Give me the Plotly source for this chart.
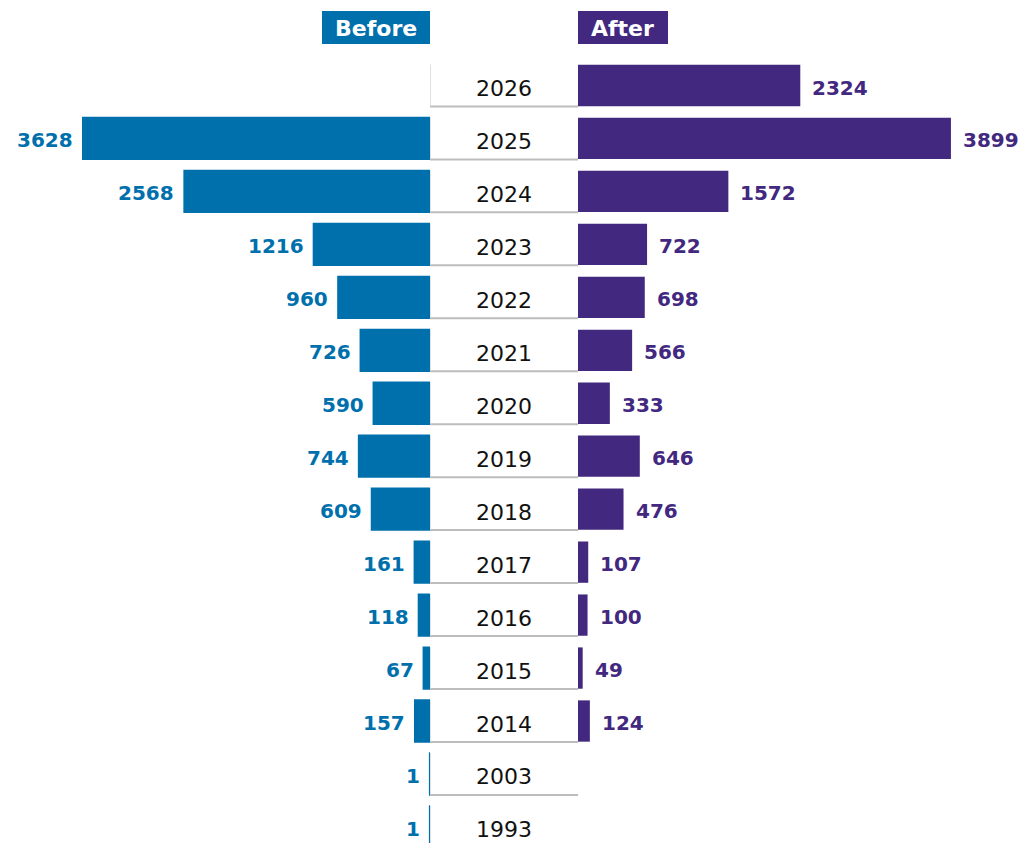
import plotly.graph_objects as go

years = ["2026", "2025", "2024", "2023", "2022", "2021", "2020", "2019", "2018",
         "2017", "2016", "2015", "2014", "2003", "1993"]
before = [None, 3628, 2568, 1216, 960, 726, 590, 744, 609, 161, 118, 67, 157, 1, 1]
after = [2324, 3899, 1572, 722, 698, 566, 333, 646, 476, 107, 100, 49, 124, None, None]

BLUE = "#0070AD"
PURPLE = "#42287F"
FONT = "DejaVu Sans"

W, H = 1021, 843
rows = list(range(len(years)))

fig = go.Figure()

fig.add_trace(go.Bar(
    y=rows, x=before, orientation="h", xaxis="x", yaxis="y",
    marker=dict(color=BLUE, line=dict(color=BLUE, width=2)), width=0.78,
    hoverinfo="skip", showlegend=False))

fig.add_trace(go.Bar(
    y=rows, x=after, orientation="h", xaxis="x3", yaxis="y",
    marker=dict(color=PURPLE, line=dict(color=PURPLE, width=0)), width=0.78,
    hoverinfo="skip", showlegend=False))

shapes = []
for i in rows:
    shapes.append(dict(type="line", xref="x2", yref="y", x0=0, x1=1,
                       y0=i + 0.395, y1=i + 0.395, layer="below",
                       line=dict(color="#bdbdbd", width=2)))
    shapes.append(dict(type="line", xref="x2", yref="y", x0=0, x1=0,
                       y0=i - 0.395, y1=i + 0.395, layer="below",
                       line=dict(color="#d6d6d6", width=1.5)))

# header boxes
shapes.append(dict(type="rect", xref="paper", yref="paper",
                   x0=322 / W, x1=430 / W, y0=1 - 44 / H, y1=1 - 11 / H,
                   fillcolor=BLUE, line=dict(width=0)))
shapes.append(dict(type="rect", xref="paper", yref="paper",
                   x0=578 / W, x1=668 / W, y0=1 - 44 / H, y1=1 - 11 / H,
                   fillcolor=PURPLE, line=dict(width=0)))

annotations = [
    dict(xref="paper", yref="paper", x=376 / W, y=1 - 28 / H, text="<b>Before</b>",
         showarrow=False, font=dict(family=FONT, size=22, color="white"),
         xanchor="center", yanchor="middle"),
    dict(xref="paper", yref="paper", x=622 / W, y=1 - 28 / H, text="<b>After</b>",
         showarrow=False, font=dict(family=FONT, size=22, color="white"),
         xanchor="center", yanchor="middle"),
]
for i, yr in enumerate(years):
    annotations.append(dict(xref="x2", yref="y", x=0.5, y=i, text=yr,
                            showarrow=False, xanchor="center", yanchor="middle",
                            yshift=-3, font=dict(family=FONT, size=22, color="#111111")))
for i, v in enumerate(before):
    if v is not None:
        annotations.append(dict(xref="x", yref="y", x=v, y=i, text=f"<b>{v}</b>",
                                showarrow=False, xanchor="right", yanchor="middle",
                                xshift=-8, yshift=-2,
                                font=dict(family=FONT, size=20, color=BLUE)))
for i, v in enumerate(after):
    if v is not None:
        annotations.append(dict(xref="x3", yref="y", x=v, y=i, text=f"<b>{v}</b>",
                                showarrow=False, xanchor="left", yanchor="middle",
                                xshift=10, yshift=-2,
                                font=dict(family=FONT, size=20, color=PURPLE)))

s = 0.09565  # px per unit
pitch = 52.96
top_c = 85.5

axis_common = dict(showgrid=False, zeroline=False, showticklabels=False,
                   showline=False, ticks="", fixedrange=True)

fig.update_layout(
    width=W, height=H,
    margin=dict(l=0, r=0, t=0, b=0),
    paper_bgcolor="white", plot_bgcolor="white",
    barmode="overlay",
    xaxis=dict(domain=[0, 430 / W], range=[430 / s, 0], **axis_common),
    xaxis2=dict(domain=[430 / W, 578 / W], range=[0, 1], **axis_common),
    xaxis3=dict(domain=[578 / W, 1], range=[0, (W - 578) / s], **axis_common),
    yaxis=dict(range=[(H - top_c) / pitch, -top_c / pitch], **axis_common),
    shapes=shapes, annotations=annotations,
)

fig.write_html("out.html")
